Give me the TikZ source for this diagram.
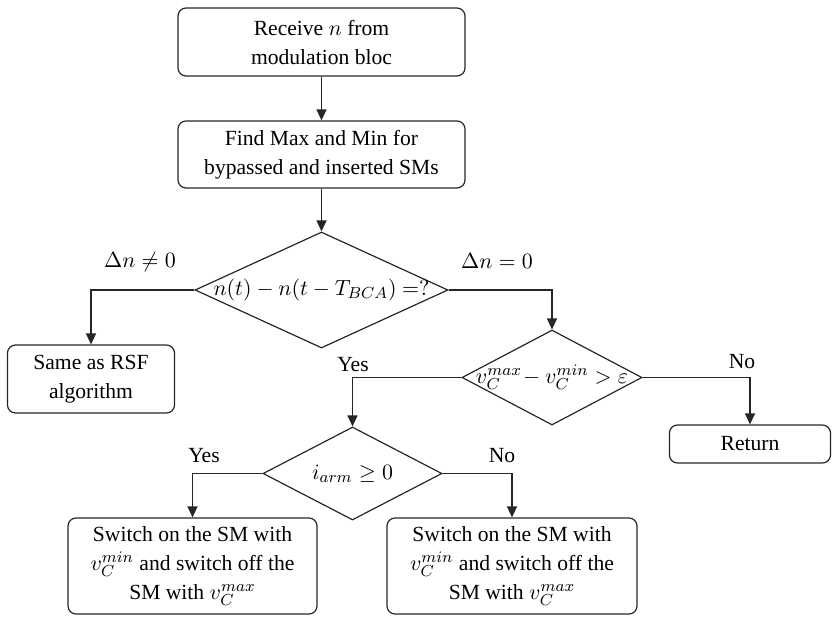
\documentclass[tikz,border=0pt]{standalone}
\usepackage{fontspec}
\setmainfont{Liberation Serif}
\usetikzlibrary{shapes.geometric,arrows.meta}

\begin{document}
\begin{tikzpicture}[x=0.5pt,y=-0.5pt,
  font=\fontsize{10.8}{14.5}\selectfont,
  line width=0.6pt,
  >={Triangle[length=5.5pt,width=5pt]},
  procbox/.style={draw=black!85, rounded corners=4pt, align=center, inner sep=0pt},
  decision/.style={draw=black!85, diamond, inner sep=0pt},
  flow/.style={draw=black!85, ->},
  lbl/.style={inner sep=0pt}]
\useasboundingbox (0,0) rectangle (832,617);

% process boxes
\node[procbox, minimum width=143.5pt, minimum height=34pt] (recv) at (321.5,42)
  {Receive $n$ from\\modulation bloc};
\node[procbox, minimum width=143.5pt, minimum height=33.5pt] (find) at (321.5,154.5)
  {Find Max and Min for\\bypassed and inserted SMs};
\node[procbox, minimum width=83.5pt, minimum height=34pt] (same) at (91,379)
  {Same as RSF\\algorithm};
\node[procbox, minimum width=80.5pt, minimum height=19pt] (ret) at (750,444)
  {Return};
\node[procbox, minimum width=124.5pt, minimum height=48pt] (onA) at (192.5,566)
  {Switch on the SM with\\$v_C^{min}$ and switch off the\\SM with $v_C^{max}$};
\node[procbox, minimum width=125pt, minimum height=48pt] (onB) at (512,566)
  {Switch on the SM with\\$v_C^{min}$ and switch off the\\SM with $v_C^{max}$};

% decisions: outline first, condition text laid on top
\node[decision, minimum width=126.5pt, minimum height=58pt] (d1) at (321.5,290) {};
\node[lbl] (d1t) at (d1.center) {$n(t)-n(t-T_{BCA})\ {=}?$};
\node[decision, minimum width=90pt, minimum height=47.5pt] (d2) at (552,377.5) {};
\node[lbl] (d2t) at (d2.center) {$v_C^{max}\!-v_C^{min}>\varepsilon$};
\node[decision, minimum width=89.5pt, minimum height=46.5pt] (d3) at (352.5,473.5) {};
\node[lbl] (d3t) at (d3.center) {$i_{arm}\geq 0$};

% connectors
\draw[flow] (recv.south) -- (find.north);
\draw[flow] (find.south) -- (d1.north);
\draw[flow] (d1.west) -| (same.north);
\draw[flow] (d1.east) -| (d2.north);
\draw[flow] (d2.east) -| (ret.north);
\draw[flow] (d2.west) -| (d3.north);
\draw[flow] (d3.west) -| (onA.north);
\draw[flow] (d3.east) -| (onB.north);

% branch labels
\node[lbl] (l1) at (140,262) {$\Delta n\neq 0$};
\node[lbl] (l2) at (497,261) {$\Delta n=0$};
\node[lbl] (l3) at (353,365) {Yes};
\node[lbl] (l4) at (742,362) {No};
\node[lbl] (l5) at (204,456) {Yes};
\node[lbl] (l6) at (502,456) {No};
\end{tikzpicture}
\end{document}
